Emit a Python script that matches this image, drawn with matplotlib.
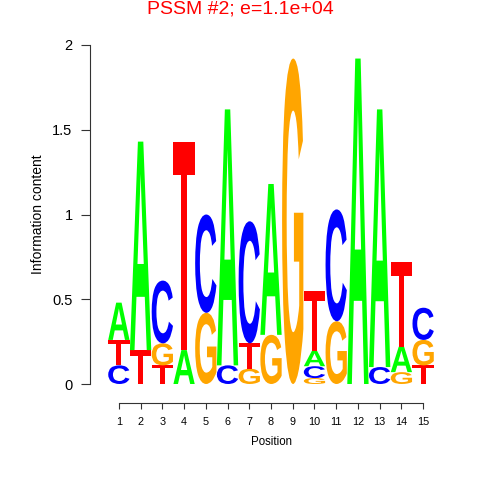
import matplotlib
matplotlib.use("Agg")
import matplotlib.pyplot as plt
from matplotlib.textpath import TextPath
from matplotlib.patches import PathPatch
from matplotlib.font_manager import FontProperties
from matplotlib.transforms import Affine2D
import numpy as np

plt.rcParams['font.family'] = ['Liberation Sans', 'DejaVu Sans']

#%%  Data (information content per letter, read off the logo)
positions = list(range(1, 16))
bits_A = [0.22, 1.23, 0.00, 0.20, 0.00, 1.51, 0.00, 0.89, 0.00, 0.09, 0.00, 1.92, 1.52, 0.15, 0.00]
bits_C = [0.11, 0.00, 0.37, 0.00, 0.58, 0.11, 0.72, 0.00, 0.00, 0.07, 0.66, 0.00, 0.10, 0.00, 0.19]
bits_G = [0.00, 0.00, 0.13, 0.00, 0.42, 0.00, 0.09, 0.29, 1.92, 0.035, 0.37, 0.00, 0.00, 0.07, 0.15]
bits_T = [0.15, 0.20, 0.11, 1.23, 0.00, 0.00, 0.15, 0.00, 0.00, 0.355, 0.00, 0.00, 0.00, 0.50, 0.11]

letters = ['A', 'C', 'G', 'T']
colors = {'A': '#00ff00', 'C': '#0000ff', 'G': '#ffa500', 'T': '#ff0000'}
title = 'PSSM #2; e=1.1e+04'

#%%  Plotting
fig = plt.figure(figsize=(4.8, 4.8), dpi=100)
ax = fig.add_axes([108/480, 96/480, 326/480, 339/480])

fp = FontProperties(family='Liberation Sans', weight='bold')
glyphs = {}
for L in letters:
    p = TextPath((0, 0), L, size=1, prop=fp)
    glyphs[L] = (p, p.get_extents())

def draw_letter(L, xc, y0, h, w=0.98):
    p, ext = glyphs[L]
    tr = Affine2D().translate(-ext.x0, -ext.y0) \
        .scale(w/ext.width, h/ext.height) \
        .translate(xc - w/2, y0)
    ax.add_patch(PathPatch(tr.transform_path(p), fc=colors[L], ec='none'))

table = np.array([bits_A, bits_C, bits_G, bits_T])
for i, x in enumerate(positions):
    col = table[:, i]
    order = np.argsort(col, kind='stable')
    y = 0.0
    for k in order:
        h = col[k]
        if h <= 0:
            continue
        draw_letter(letters[k], x, y, h)
        y += h

# Axes styling (R-like detached axes)
ax.set_xlim(0.5, 15.5)
ax.set_ylim(0, 2)
for s in ['top', 'right']:
    ax.spines[s].set_visible(False)
ax.spines['left'].set_position(('outward', 13))
ax.spines['bottom'].set_position(('outward', 13.7))
ax.spines['left'].set_bounds(0, 2)
ax.spines['bottom'].set_bounds(1, 15)
ax.spines['left'].set_color('#333333')
ax.spines['bottom'].set_color('#333333')

ax.set_yticks([0, 0.5, 1, 1.5, 2])
ax.set_yticklabels(['0', '0.5', '1', '1.5', '2'])
ax.set_xticks(positions)
ax.tick_params(axis='y', length=6.5, pad=6, labelsize=10.5, color='#333333')
ax.tick_params(axis='x', length=4.3, pad=6, labelsize=7.8, color='#333333')

ax.set_xlabel('Position', fontsize=8.3, labelpad=6)
ax.set_ylabel('Information content', fontsize=10, labelpad=5)
fig.text(0.5, 1 - 9/480, title, color='red', fontsize=14, ha='center', va='center')

plt.savefig('out.png', dpi=100)
